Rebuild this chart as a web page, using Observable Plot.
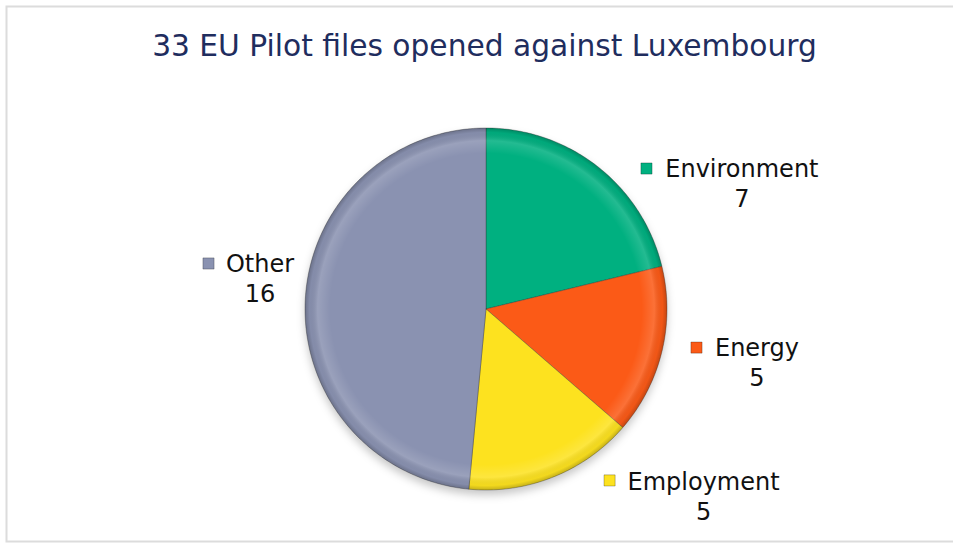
<!DOCTYPE html>
<html><head><meta charset="utf-8">
<script src="https://cdn.jsdelivr.net/npm/d3@7"></script>
<script src="https://cdn.jsdelivr.net/npm/@observablehq/plot@0.6"></script>
<style>body{margin:0;background:#fff;}</style>
</head><body><div id="chart"></div>
<script>
// ---- data ----
const title = "33 EU Pilot files opened against Luxembourg";
const categories = ["Environment", "Energy", "Employment", "Other"];
const values = [7, 5, 5, 16];
const colors = ["#00b080", "#fb5a17", "#fde21f", "#8a92b1"];

// ---- label layout (pixel offsets from each slice's outer mid-point) ----
const markerDx = [48.6, 34.6, 56.3, -96.7];
const markerDy = [1.8, -4.1, 3.4, -36.9];
const labelDx = [144, 95.1, 150.3, -45.2];
const labelDy = [15.8, 9.4, 17.9, -22.9];

const W = 953, H = 544, CX = 485.5, CY = 308.5, R = 181;
const xDomain = [-CX / R, (W - CX) / R];
const yDomain = [-(H - CY) / R, CY / R];

const total = d3.sum(values);
let acc = 0;
const slices = categories.map((c, i) => {
  const a0 = acc / total * 2 * Math.PI; acc += values[i];
  const a1 = acc / total * 2 * Math.PI;
  return {category: c, value: values[i], a0, a1, mid: (a0 + a1) / 2, i};
});
// polygon outline of each slice (centre, arc, centre), angles clockwise from 12 o'clock
const polyPts = slices.flatMap(s => {
  const n = Math.max(2, Math.ceil((s.a1 - s.a0) / (Math.PI / 180)));
  const pts = [{category: s.category, u: 0, v: 0}];
  for (let k = 0; k <= n; k++) {
    const a = s.a0 + (s.a1 - s.a0) * k / n;
    pts.push({category: s.category, u: Math.sin(a), v: Math.cos(a)});
  }
  pts.push({category: s.category, u: 0, v: 0});
  return pts;
});
const labels = slices.map(s => ({
  ...s,
  mu: Math.sin(s.mid) + markerDx[s.i] / R,
  mv: Math.cos(s.mid) - markerDy[s.i] / R,
  tu: Math.sin(s.mid) + labelDx[s.i] / R,
  tv: Math.cos(s.mid) - labelDy[s.i] / R,
  text: s.category + "\n" + s.value
}));

const plot = Plot.plot({
  width: W, height: H, margin: 0,
  x: {domain: xDomain, axis: null},
  y: {domain: yDomain, axis: null},
  color: {domain: categories, range: colors},
  style: {fontFamily: "Verdana, 'DejaVu Sans', sans-serif", background: "#fff"},
  marks: [
    Plot.frame({stroke: "#dcdcdc", strokeWidth: 2, insetLeft: 6, insetTop: 6, insetRight: -40, insetBottom: 3}),
    Plot.line(polyPts, {x: "u", y: "v", z: "category", fill: "#000", fillOpacity: 0.22, stroke: "none", dy: 5, className: "pieshadow"}),
    Plot.line(polyPts, {x: "u", y: "v", z: "category", fill: "category", stroke: "rgba(50,50,50,0.35)", strokeWidth: 1}),
    Plot.line(polyPts, {x: "u", y: "v", z: "category", fill: "url(#bevel)", stroke: "none"}),
    Plot.dot(labels, {x: "mu", y: "mv", symbol: "square", r: 6.3, fill: "category", stroke: "rgba(0,0,0,0.25)", strokeWidth: 1}),
    Plot.text(labels, {x: "tu", y: "tv", text: "text", textAnchor: "middle", lineAnchor: "middle", fontSize: 24, lineHeight: 1.25, fill: "#111"}),
    Plot.text([title], {frameAnchor: "top", dx: 7.5, dy: 46, lineAnchor: "middle", fontSize: 29.7, fill: "#1f2d5e"})
  ]
});

// decorative defs: bevel gradient and blur for shadow
const svg = d3.select(plot);
const px = plot.scale("x").apply(0), py = plot.scale("y").apply(0);
const pr = plot.scale("x").apply(1) - px;
const defs = svg.insert("defs", ":first-child");
const g = defs.append("radialGradient").attr("id", "bevel").attr("gradientUnits", "userSpaceOnUse")
  .attr("cx", px).attr("cy", py).attr("r", pr);
[[0, "#fff", 0], [0.86, "#fff", 0], [0.93, "#fff", 0.14], [0.975, "#000", 0.04], [1, "#000", 0.22]]
  .forEach(([o, c, a]) => g.append("stop").attr("offset", o).attr("stop-color", c).attr("stop-opacity", a));
defs.append("filter").attr("id", "blur").attr("x", "-20%").attr("y", "-20%").attr("width", "140%").attr("height", "140%")
  .append("feGaussianBlur").attr("stdDeviation", 4);
svg.select("g.pieshadow").attr("filter", "url(#blur)");

document.getElementById("chart").append(plot);
</script>
</body></html>
